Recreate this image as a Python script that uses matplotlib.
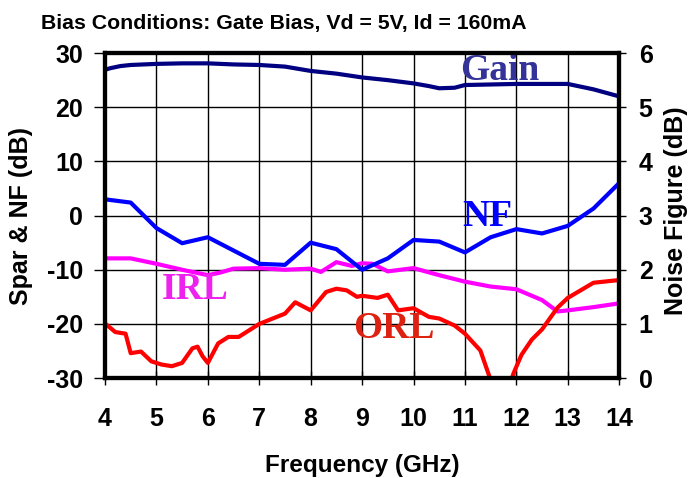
import numpy as np
import matplotlib
matplotlib.use('Agg')
import matplotlib.pyplot as plt

# Gain (dB), left axis
gain_f = [4.0, 4.1, 4.3, 4.5, 5.0, 5.5, 6.0, 6.5, 7.0, 7.5, 8.0, 8.5, 9.0, 9.5,
          10.0, 10.3, 10.5, 10.8, 11.0, 11.5, 12.0, 12.5, 13.0, 13.5, 14.0]
gain_db = [26.9, 27.2, 27.6, 27.8, 28.0, 28.1, 28.1, 27.9, 27.8, 27.5, 26.7, 26.2,
           25.5, 25.0, 24.4, 23.9, 23.5, 23.6, 24.1, 24.2, 24.3, 24.3, 24.3, 23.3, 22.0]

# Noise figure (dB), right axis
nf_f = [4.0, 4.5, 5.0, 5.5, 6.0, 7.0, 7.5, 8.0, 8.5, 9.0, 9.5, 10.0,
        10.5, 11.0, 11.5, 12.0, 12.5, 13.0, 13.5, 14.0]
nf_db = [3.30, 3.24, 2.77, 2.49, 2.60, 2.11, 2.09, 2.50, 2.38, 2.00, 2.21, 2.55,
         2.52, 2.32, 2.60, 2.75, 2.67, 2.81, 3.13, 3.60]

# Input return loss (dB)
irl_f = [4.0, 4.5, 5.0, 5.5, 6.0, 6.25, 6.5, 7.0, 7.5, 8.0, 8.2, 8.5, 8.8, 9.0,
         9.2, 9.5, 10.0, 10.5, 11.0, 11.5, 12.0, 12.5, 12.8, 13.0, 13.5, 14.0]
irl_db = [-7.9, -7.9, -8.9, -10.0, -11.0, -10.5, -9.8, -9.7, -10.0, -9.8, -10.4,
          -8.6, -9.3, -8.8, -8.9, -10.3, -9.7, -11.0, -12.2, -13.1, -13.6, -15.6,
          -17.7, -17.5, -16.9, -16.2]

# Output return loss (dB)
orl_f = [4.0, 4.2, 4.4, 4.5, 4.7, 4.9, 5.1, 5.3, 5.5, 5.7, 5.8, 5.9, 6.0, 6.2,
         6.4, 6.6, 6.8, 7.0, 7.5, 7.7, 8.0, 8.3, 8.5, 8.7, 8.9, 9.0, 9.3, 9.5,
         9.7, 10.0, 10.3, 10.5, 10.8, 11.0, 11.3, 11.45, 11.6, 11.8, 11.95, 12.1,
         12.3, 12.5, 12.8, 13.0, 13.5, 14.0]
orl_db = [-19.9, -21.5, -21.8, -25.4, -25.1, -26.9, -27.5, -27.8, -27.2, -24.5,
          -24.2, -26.0, -27.2, -23.6, -22.4, -22.4, -21.2, -20.0, -18.1, -16.0,
          -17.5, -14.1, -13.5, -13.8, -15.0, -14.8, -15.2, -14.6, -17.5, -17.1,
          -18.7, -19.0, -20.3, -21.8, -24.9, -29.0, -33.0, -33.0, -29.0, -25.7,
          -22.9, -21.0, -17.0, -15.2, -12.4, -11.9]

plt.rcParams['font.family'] = ['Liberation Sans', 'DejaVu Sans']
plt.rcParams['font.weight'] = 'bold'
plt.rcParams['axes.unicode_minus'] = False

fig = plt.figure(figsize=(6.93, 4.78), dpi=100)
ax = fig.add_axes([0.1515, 0.209, 0.742, 0.68])
ax2 = ax.twinx()

ax.plot(gain_f, gain_db, color='#000080', lw=3)
ax2.plot(nf_f, nf_db, color='#0000ff', lw=3)
ax.plot(irl_f, irl_db, color='#ff00ff', lw=3)
ax.plot(orl_f, orl_db, color='#ff0000', lw=3)

ax.set_xlim(4, 14)
ax.set_ylim(-30, 30)
ax2.set_ylim(0, 6)
ax.set_xticks(range(4, 15))
ax.set_yticks(range(-30, 31, 10))
ax2.set_yticks(range(0, 7))
ax.grid(True, color='black', lw=1)

for a in (ax, ax2):
    for s in a.spines.values():
        s.set_linewidth(3)
ax.tick_params(axis='y', labelsize=18, width=1, length=8, pad=8)
ax2.tick_params(axis='y', labelsize=18, width=1, length=5, pad=9)
ax.tick_params(axis='x', labelsize=18, width=1, length=10, direction='inout', pad=16)

ax.set_xlabel('Frequency (GHz)', fontsize=17.5, fontweight='bold')
ax.xaxis.set_label_coords(0.5, -0.232)
ax.set_ylabel('Spar & NF (dB)', fontsize=18, fontweight='bold')
ax.yaxis.set_label_coords(-0.14, 0.5)
ax2.set_ylabel('Noise Figure (dB)', fontsize=18, fontweight='bold')
ax2.yaxis.set_label_coords(1.088, 0.514)

fig.text(284 / 693, 1 - 23 / 478, 'Bias Conditions: Gate Bias, Vd = 5V, Id = 160mA',
         fontsize=15.3, fontweight='bold', ha='center', va='center')

serif = ['Liberation Serif', 'DejaVu Serif']
ax.text(10.9, 25.0, 'Gain', color='#333399', fontsize=27, fontweight='bold', family=serif)
ax.text(10.95, -1.9, 'NF', color='#0000ff', fontsize=27, fontweight='bold', family=serif)
ax.text(5.11, -15.4, 'IRL', color='#ee22ee', fontsize=27, fontweight='bold', family=serif)
ax.text(8.83, -22.6, 'ORL', color='#dd2211', fontsize=27, fontweight='bold', family=serif)

fig.savefig('out.png', dpi=100)
